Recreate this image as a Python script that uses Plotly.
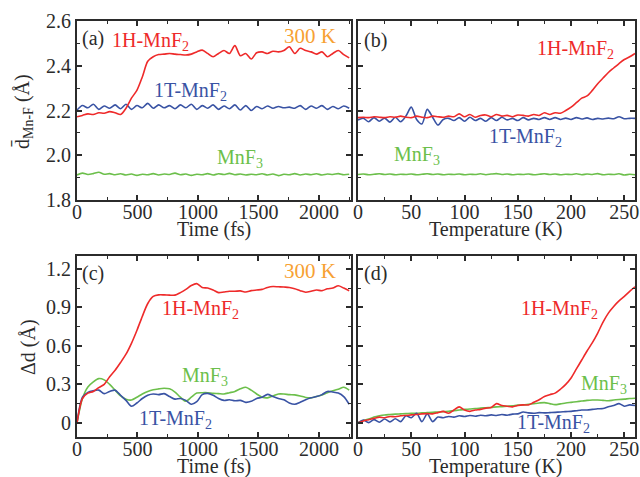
import plotly.graph_objects as go

W, H = 640, 477

RED = "#ee2a2a"
BLUE = "#3953a4"
GREEN = "#6cbf4b"
ORANGE = "#f7a133"
AXIS = "#2b2b2b"
FONT = "Liberation Serif"

# sampling grids
time_fs = list(range(0, 2251, 45))
temp_k = list(range(0, 261, 5))

# (a) average Mn-F bond length vs time at 300 K
dbar_1h_time = [
    2.172, 2.178, 2.185, 2.182, 2.19, 2.188, 2.195, 2.19, 2.182, 2.21,
    2.255, 2.29, 2.35, 2.42, 2.44, 2.45, 2.452, 2.455, 2.452, 2.45,
    2.448, 2.452, 2.462, 2.47, 2.455, 2.44, 2.455, 2.468, 2.455, 2.49,
    2.445, 2.455, 2.43, 2.458, 2.462, 2.455, 2.465, 2.462, 2.468, 2.485,
    2.455, 2.478, 2.468, 2.462, 2.452, 2.462, 2.44, 2.455, 2.468, 2.45,
    2.435,
]
dbar_1t_time = [
    2.202, 2.222, 2.212, 2.228, 2.205, 2.22, 2.21, 2.225, 2.208, 2.228,
    2.205, 2.222, 2.212, 2.232, 2.21, 2.225, 2.212, 2.222, 2.208, 2.225,
    2.212, 2.228, 2.205, 2.222, 2.21, 2.225, 2.205, 2.22, 2.208, 2.225,
    2.202, 2.222, 2.2, 2.218, 2.208, 2.22, 2.21, 2.218, 2.212, 2.215,
    2.21, 2.222, 2.205, 2.22, 2.21, 2.222, 2.205, 2.218, 2.208, 2.22,
    2.21,
]
dbar_mnf3_time = [
    1.912, 1.92, 1.914, 1.918, 1.924, 1.915, 1.918, 1.913, 1.917, 1.912,
    1.916, 1.91, 1.915, 1.913, 1.918, 1.912, 1.916, 1.914, 1.92, 1.913,
    1.916, 1.91, 1.915, 1.913, 1.918, 1.912, 1.917, 1.914, 1.919, 1.913,
    1.916, 1.912, 1.915, 1.913, 1.917, 1.912, 1.916, 1.909, 1.915, 1.913,
    1.918, 1.912, 1.916, 1.913, 1.917, 1.912, 1.916, 1.914, 1.918, 1.913,
    1.915,
]

# (b) average Mn-F bond length vs temperature
dbar_1h_temp = [
    2.168, 2.17, 2.168, 2.172, 2.17, 2.168, 2.172, 2.17, 2.175, 2.17,
    2.168, 2.175, 2.17, 2.168, 2.175, 2.172, 2.17, 2.175, 2.172, 2.185,
    2.172, 2.182, 2.17, 2.178, 2.18, 2.172, 2.182, 2.175, 2.178, 2.172,
    2.18, 2.178, 2.175, 2.182, 2.178, 2.19, 2.182, 2.19, 2.188, 2.2,
    2.215, 2.235, 2.255, 2.265, 2.29, 2.32, 2.345, 2.37, 2.39, 2.41,
    2.428, 2.44, 2.455,
]
dbar_1t_temp = [
    2.158, 2.165, 2.15, 2.168, 2.152, 2.166, 2.148, 2.17, 2.15, 2.175,
    2.215, 2.16, 2.14, 2.205, 2.17, 2.135, 2.16, 2.165, 2.155, 2.168,
    2.152, 2.17, 2.155, 2.165, 2.152, 2.168, 2.155, 2.17, 2.158, 2.165,
    2.155, 2.168, 2.158, 2.165, 2.16, 2.168, 2.16, 2.168, 2.16, 2.166,
    2.16, 2.168, 2.162, 2.167, 2.16, 2.165, 2.162, 2.166, 2.163, 2.172,
    2.163, 2.165, 2.165,
]
dbar_mnf3_temp = [
    1.914, 1.916, 1.913, 1.915, 1.917, 1.914, 1.916, 1.913, 1.915, 1.914,
    1.916, 1.913, 1.915, 1.917, 1.914, 1.916, 1.913, 1.915, 1.914, 1.916,
    1.913, 1.915, 1.914, 1.917, 1.913, 1.916, 1.918, 1.914, 1.916, 1.913,
    1.915, 1.914, 1.916, 1.913, 1.915, 1.917, 1.914, 1.916, 1.913, 1.915,
    1.914, 1.917, 1.913, 1.916, 1.914, 1.918, 1.913, 1.915, 1.914, 1.917,
    1.912, 1.915, 1.913,
]

# (c) bond length deviation vs time at 300 K
dd_1h_time = [
    0.0, 0.19, 0.232, 0.245, 0.275, 0.30, 0.36, 0.41, 0.47, 0.535,
    0.62, 0.72, 0.83, 0.93, 0.985, 0.997, 0.997, 0.995, 0.995, 1.015,
    1.04, 1.07, 1.085, 1.055, 1.05, 1.035, 1.015, 1.02, 1.025, 1.025,
    1.028, 1.02, 1.03, 1.035, 1.04, 1.055, 1.062, 1.06, 1.058, 1.055,
    1.045, 1.03, 1.018, 1.025, 1.035, 1.03, 1.045, 1.05, 1.068, 1.05,
    1.03,
]
dd_1t_time = [
    0.0, 0.2, 0.238, 0.25, 0.255, 0.228, 0.245, 0.255, 0.215, 0.175,
    0.13, 0.155, 0.19, 0.215, 0.225, 0.22, 0.228, 0.205, 0.185, 0.19,
    0.175, 0.145, 0.165, 0.22, 0.23, 0.215, 0.19, 0.175, 0.18, 0.172,
    0.175, 0.16, 0.168, 0.19, 0.2, 0.222, 0.205, 0.19, 0.18, 0.155,
    0.145, 0.16, 0.18, 0.195, 0.205, 0.22, 0.245, 0.24, 0.232, 0.205,
    0.145,
]
dd_mnf3_time = [
    0.0, 0.19, 0.28, 0.32, 0.345, 0.335, 0.3, 0.255, 0.21, 0.185,
    0.178, 0.2, 0.225, 0.245, 0.258, 0.265, 0.27, 0.265, 0.24, 0.2,
    0.168, 0.2, 0.232, 0.235, 0.235, 0.23, 0.228, 0.225, 0.235, 0.245,
    0.265, 0.278, 0.255, 0.225, 0.2, 0.195, 0.21, 0.225, 0.225, 0.22,
    0.218, 0.21, 0.198, 0.195, 0.205, 0.218, 0.235, 0.25, 0.262, 0.278,
    0.255,
]

# (d) bond length deviation vs temperature
dd_1h_temp = [
    0.0, 0.015, 0.025, 0.035, 0.045, 0.04, 0.05, 0.048, 0.055, 0.058,
    0.062, 0.065, 0.07, 0.072, 0.07, 0.08, 0.09, 0.075, 0.1, 0.125,
    0.1, 0.09, 0.1, 0.105, 0.115, 0.12, 0.15, 0.135, 0.13, 0.125,
    0.135, 0.14, 0.14, 0.16, 0.18, 0.205, 0.22, 0.232, 0.262, 0.3,
    0.35, 0.42, 0.49, 0.56, 0.625, 0.7, 0.785, 0.855, 0.907, 0.95,
    0.985, 1.025, 1.06,
]
dd_1t_temp = [
    0.0, 0.022, 0.002, 0.025, 0.005, 0.03, 0.008, 0.032, 0.01, 0.055,
    0.04, 0.075, 0.01, 0.07, 0.01, 0.045, 0.04, 0.05, 0.045, 0.055,
    0.05, 0.058, 0.052, 0.06, 0.055, 0.062, 0.058, 0.065, 0.06, 0.068,
    0.07, 0.085, 0.078, 0.075, 0.08, 0.078, 0.08, 0.082, 0.085, 0.088,
    0.09, 0.095, 0.1, 0.1, 0.105, 0.11, 0.112, 0.125, 0.135, 0.15,
    0.13, 0.14, 0.135,
]
dd_mnf3_temp = [
    0.003, 0.018, 0.03, 0.045, 0.055, 0.062, 0.065, 0.068, 0.07, 0.072,
    0.075, 0.075, 0.078, 0.08, 0.082, 0.085, 0.088, 0.09, 0.095, 0.1,
    0.105, 0.108, 0.112, 0.115, 0.118, 0.12, 0.125, 0.127, 0.13, 0.133,
    0.138, 0.14, 0.145, 0.15, 0.155, 0.158, 0.15, 0.142, 0.148, 0.155,
    0.16, 0.165, 0.17, 0.175, 0.178, 0.178, 0.175, 0.172, 0.178, 0.182,
    0.185, 0.19, 0.192,
]

panels = [
    ("x", "y", time_fs, [dbar_1h_time, dbar_1t_time, dbar_mnf3_time]),
    ("x2", "y2", temp_k, [dbar_1h_temp, dbar_1t_temp, dbar_mnf3_temp]),
    ("x3", "y3", time_fs, [dd_1h_time, dd_1t_time, dd_mnf3_time]),
    ("x4", "y4", temp_k, [dd_1h_temp, dd_1t_temp, dd_mnf3_temp]),
]

fig = go.Figure()
for xa, ya, xs, series in panels:
    # draw MnF3 first so red/blue sit on top
    for ys, color in reversed(list(zip(series, [RED, BLUE, GREEN]))):
        fig.add_trace(go.Scatter(
            x=xs, y=ys, xaxis=xa, yaxis=ya, mode="lines",
            line=dict(color=color, width=1.6, shape="spline", smoothing=0.8),
            showlegend=False, hoverinfo="skip",
        ))


def px(x):
    return x / W


def py(y):
    return 1 - y / H


def frame(domain, rng, dtick, minor_dtick, anchor, **kw):
    ax = dict(
        domain=domain, range=rng, dtick=dtick, tick0=0, anchor=anchor,
        automargin=False,
        showline=True, linecolor=AXIS, linewidth=2, mirror="allticks",
        ticks="inside", ticklen=5, tickwidth=1.5, tickcolor=AXIS,
        showgrid=False, zeroline=False,
        tickfont=dict(family=FONT, size=20, color=AXIS),
        minor=dict(dtick=minor_dtick, tick0=0, ticks="inside", ticklen=3,
                   tickwidth=1.2, tickcolor=AXIS, showgrid=False),
    )
    ax.update(kw)
    return ax


left = [px(77), px(351)]
right = [px(358), px(635)]
top = [py(200), py(21)]
bottom = [py(437), py(256)]

fig.update_layout(
    width=W, height=H,
    margin=dict(l=0, r=0, t=0, b=0, pad=0),
    paper_bgcolor="white", plot_bgcolor="white",
    font=dict(family=FONT, size=20, color=AXIS),
    xaxis=frame(left, [0, 2265], 500, 250, "y", ticklabelstandoff=-7),
    yaxis=frame(top, [1.8, 2.6], 0.2, 0.1, "x", tickformat=".1f"),
    xaxis2=frame(right, [0, 260], 50, 25, "y2", ticklabelstandoff=-7),
    yaxis2=frame(top, [1.8, 2.6], 0.2, 0.1, "x2", showticklabels=False),
    xaxis3=frame(left, [0, 2265], 500, 250, "y3", ticklabelstandoff=-7),
    yaxis3=frame(bottom, [-0.11, 1.3], 0.3, 0.15, "x3"),
    xaxis4=frame(right, [0, 260], 50, 25, "y4", ticklabelstandoff=-7),
    yaxis4=frame(bottom, [-0.11, 1.3], 0.3, 0.15, "x4", showticklabels=False),
)

# in-panel labels: (text, x px, y px, color, size)
labels = [
    ("(a)", 80, 38, AXIS, 20),
    ("1H-MnF<sub>2</sub>", 110, 41, RED, 20),
    ("300 K", 282, 36, ORANGE, 21),
    ("1T-MnF<sub>2</sub>", 152, 91, BLUE, 20),
    ("MnF<sub>3</sub>", 215, 158, GREEN, 20),
    ("(b)", 362, 40, AXIS, 20),
    ("1H-MnF<sub>2</sub>", 535, 49, RED, 20),
    ("1T-MnF<sub>2</sub>", 487, 138, BLUE, 20),
    ("MnF<sub>3</sub>", 392, 156, GREEN, 20),
    ("(c)", 80, 273, AXIS, 20),
    ("300 K", 282, 271, ORANGE, 21),
    ("1H-MnF<sub>2</sub>", 160, 309, RED, 20),
    ("MnF<sub>3</sub>", 180, 376, GREEN, 20),
    ("1T-MnF<sub>2</sub>", 137, 419, BLUE, 20),
    ("(d)", 362, 273, AXIS, 20),
    ("1H-MnF<sub>2</sub>", 519, 309, RED, 20),
    ("MnF<sub>3</sub>", 579, 384, GREEN, 20),
    ("1T-MnF<sub>2</sub>", 515, 423, BLUE, 20),
]
for text, x, y, color, size in labels:
    fig.add_annotation(
        text=text, x=px(x), y=py(y), xref="paper", yref="paper",
        xanchor="left", yanchor="middle", showarrow=False,
        font=dict(family=FONT, size=size, color=color),
    )

# axis titles
titles = [
    ("Time (fs)", 214, 229, 0),
    ("Temperature (K)", 496, 229, 0),
    ("Time (fs)", 214, 466, 0),
    ("Temperature (K)", 496, 466, 0),
    ("d\u0304<sub>Mn-F</sub> (Å)", 24, 112, -90),
    ("Δd (Å)", 28, 347, -90),
]
for text, x, y, angle in titles:
    fig.add_annotation(
        text=text, x=px(x), y=py(y), xref="paper", yref="paper",
        xanchor="center", yanchor="middle", showarrow=False, textangle=angle,
        font=dict(family=FONT, size=20, color=AXIS),
    )

# drop the default 8px page margin so the 640x477 figure fills the window
fig.write_html(
    "out.html",
    config={"displayModeBar": False},
    post_script="document.body.style.margin='0';document.body.style.overflow='hidden';",
)
